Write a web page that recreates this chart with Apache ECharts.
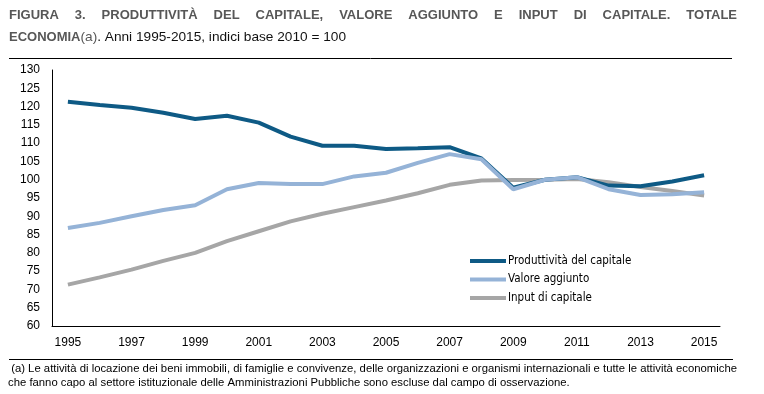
<!DOCTYPE html>
<html><head><meta charset="utf-8">
<script src="https://cdn.jsdelivr.net/npm/echarts@6/dist/echarts.min.js"></script>
<style>html,body{margin:0;padding:0;background:#fff}#c{width:764px;height:394px}</style>
</head><body><div id="c"></div>
<script>
const years = ['1995','1996','1997','1998','1999','2000','2001','2002','2003','2004','2005','2006','2007','2008','2009','2010','2011','2012','2013','2014','2015'];
const produttivita = [121.3,120.4,119.7,118.3,116.6,117.5,115.6,111.8,109.3,109.3,108.4,108.6,108.9,105.8,97.8,100,100.7,98.4,98.2,99.5,101.2];
const valoreAggiunto = [86.8,88.2,90.0,91.7,93.0,97.4,99.1,98.8,98.8,100.9,101.9,104.6,107.0,105.6,97.4,100,100.7,97.4,95.8,96.0,96.6];
const inputCapitale = [71.3,73.3,75.4,77.8,80.0,83.2,85.9,88.6,90.7,92.5,94.3,96.3,98.6,99.8,99.9,100,100.2,99.3,98.0,96.9,95.7];
const yTicks = {min:60, max:130, interval:5};
const seriesNames = ['Produttività del capitale','Valore aggiunto','Input di capitale'];
const titleWords = ['FIGURA','3.','PRODUTTIVITÀ','DEL','CAPITALE,','VALORE','AGGIUNTO','E','INPUT','DI','CAPITALE.','TOTALE'];
const footnote1 = ' (a) Le attività di locazione dei beni immobili, di famiglie e convivenze, delle organizzazioni e organismi internazionali e tutte le attività economiche';
const footnote2 = 'che fanno capo al settore istituzionale delle Amministrazioni Pubbliche sono escluse dal campo di osservazione.';

const colors = ['#0e5a85','#95b3d7','#a6a6a6'];
const COND = "'DejaVu Sans Condensed',sans-serif";
const SANS = "'Liberation Sans',Arial,sans-serif";

const cv = document.createElement('canvas').getContext('2d');
function tw(text, font){ cv.font = font; return cv.measureText(text).width; }

// justify title line
const TFONT = "bold 13px 'Liberation Sans'";
const widths = titleWords.map(w => tw(w, TFONT));
const L = 9, R = 737;
const gap = (R - L - widths.reduce((a,b)=>a+b,0)) / (titleWords.length - 1);
const titleEls = [];
let x = L;
titleWords.forEach((w,i) => {
  titleEls.push({type:'text', x:x, y:9, style:{text:w, font:TFONT, fill:'#575757'}});
  x += widths[i] + gap;
});

// second title line, narrow part scaled
const NFONT = "13px 'Liberation Sans'";
const wEco = tw('ECONOMIA', TFONT);
const rest = '. Anni 1995-2015, indici base 2010 = 100';
const wA = tw('(a)', NFONT), wRest = tw(rest, NFONT);
const restScale = (346 - 9 - wEco) / (wA + wRest);

// footnote scaled to the width of the original
const FFONT = "11px 'Liberation Sans'";
const fScale = (737 - 8) / tw(footnote1, FFONT);

const chart = echarts.init(document.getElementById('c'), null, {renderer:'canvas'});
chart.setOption({
  animation:false,
  grid:{left:52, right:44, top:70, bottom:68},
  xAxis:{type:'category', data:years, boundaryGap:true,
    axisLine:{lineStyle:{color:'#000', width:1}}, axisTick:{show:false},
    axisLabel:{interval:1, color:'#000', fontSize:12, fontFamily:SANS, margin:11}},
  yAxis:{type:'value', min:yTicks.min, max:yTicks.max, interval:yTicks.interval,
    axisLine:{show:true, lineStyle:{color:'#000', width:1}}, axisTick:{show:false},
    splitLine:{show:false},
    axisLabel:{color:'#000', fontSize:12, fontFamily:SANS, margin:12}},
  legend:{orient:'vertical', left:470, top:254, padding:0, itemWidth:36, itemHeight:4, itemGap:4.5,
    icon:'rect', textStyle:{fontFamily:COND, fontSize:11.5, lineHeight:14, color:'#000', padding:[0,0,0,-3]},
    data:seriesNames},
  series:[
    {name:seriesNames[0], type:'line', data:produttivita, symbol:'none', lineStyle:{width:4, color:colors[0]}, itemStyle:{color:colors[0]}, z:3},
    {name:seriesNames[1], type:'line', data:valoreAggiunto, symbol:'none', lineStyle:{width:4, color:colors[1]}, itemStyle:{color:colors[1]}, z:4},
    {name:seriesNames[2], type:'line', data:inputCapitale, symbol:'none', lineStyle:{width:4, color:colors[2]}, itemStyle:{color:colors[2]}, z:2}
  ],
  graphic:[
    ...titleEls,
    {type:'text', x:9, y:31, style:{text:'ECONOMIA', font:TFONT, fill:'#575757'}},
    {type:'text', x:9 + wEco, y:31, scaleX:restScale, style:{
      rich:{a:{font:NFONT, fill:'#575757'}, n:{font:NFONT, fill:'#111'}},
      text:'{a|(a)}{n|' + rest + '}'}},
    {type:'line', shape:{x1:9, y1:58.5, x2:732, y2:58.5}, style:{stroke:'#000', lineWidth:1}},
    {type:'line', shape:{x1:9, y1:359.5, x2:733, y2:359.5}, style:{stroke:'#000', lineWidth:1}},
    {type:'text', x:8, y:363, scaleX:fScale, style:{text:footnote1, font:FFONT, fill:'#000'}},
    {type:'text', x:8, y:377, scaleX:fScale, style:{text:footnote2, font:FFONT, fill:'#000'}}
  ]
});
</script></body></html>
